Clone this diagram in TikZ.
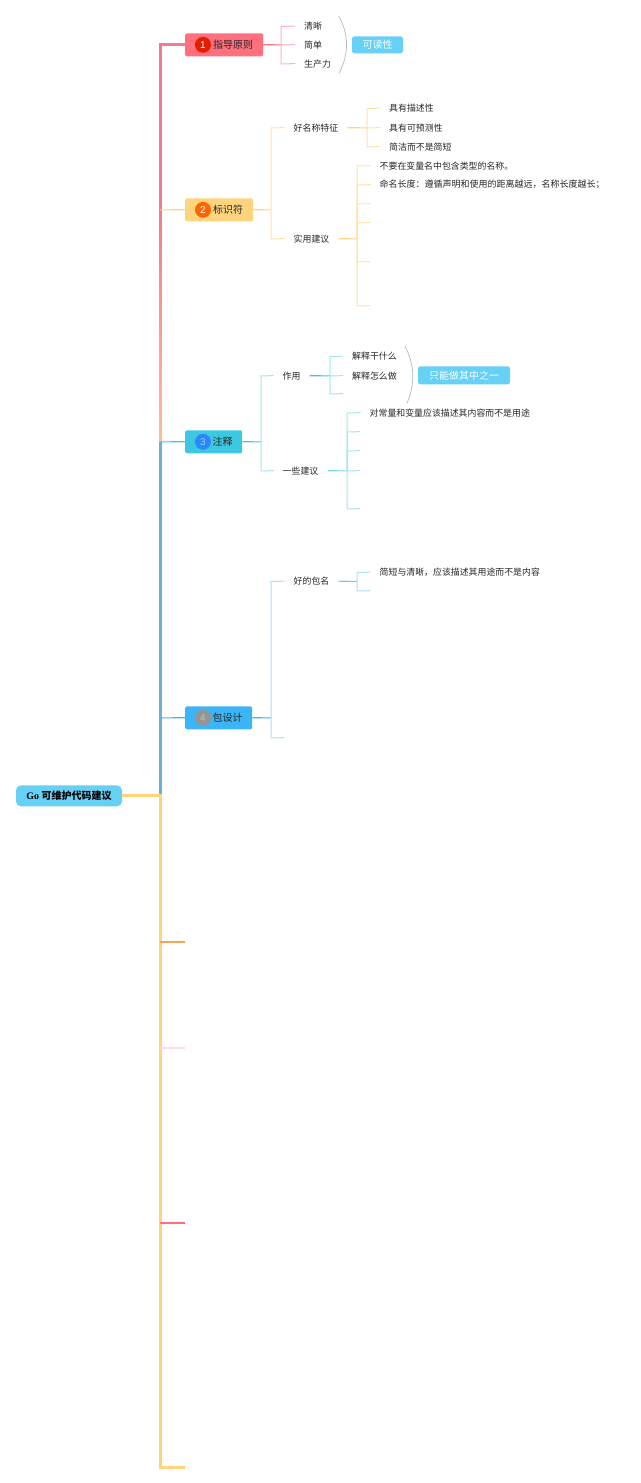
\documentclass[tikz,border=0pt]{standalone}
\usepackage{fontspec}
\setmainfont{Noto Sans CJK SC}
\newfontfamily\latserif{Liberation Serif}[BoldFont={Liberation Serif Bold}]
\newfontfamily\digitfont{Liberation Sans}
\definecolor{cred}{HTML}{FF6F7E}
\definecolor{cyel}{HTML}{FFD47E}
\definecolor{ccya}{HTML}{3CC8E0}
\definecolor{cblu}{HTML}{3BB5F5}
\definecolor{lred}{HTML}{FFB0BA}
\definecolor{lyel}{HTML}{FFE2A4}
\definecolor{lcya}{HTML}{A4E6EE}
\definecolor{lblu}{HTML}{ABDFF7}
\definecolor{tag}{HTML}{66D0F5}
\definecolor{txt}{HTML}{262626}
\definecolor{ctrunkr}{HTML}{F47C8C}
\definecolor{ctrunkp}{HTML}{FFBC96}
\definecolor{ctrunkb}{HTML}{6BB0D8}
\definecolor{carc}{HTML}{A9BDBD}
\definecolor{tworange}{HTML}{F5A55A}
\definecolor{twpink}{HTML}{FADDE6}
\definecolor{cyamid}{HTML}{77D9E9}
\definecolor{blumid}{HTML}{76CBF8}
\newcommand{\stubto}[3]{\draw[stub,color=#1] (#2) -- ([xshift=.08pt]#2 |- #3) -- ([yshift=.08pt]#3);}
\tikzset{
  topic/.style={anchor=west,minimum height=23pt,inner xsep=9pt,inner ysep=0pt,rounded corners=1.5pt,font=\fontsize{10}{12}\selectfont,text=txt},
  badge/.style={circle,minimum size=16pt,inner sep=0pt,font=\fontsize{10}{11}\digitfont},
  leaf/.style={anchor=west,inner xsep=9pt,inner ysep=0pt,font=\fontsize{8.9}{11}\selectfont,text=txt},
  tagbox/.style={anchor=center,fill=tag,rounded corners=2.5pt,inner sep=0pt,text=white,font=\fontsize{10}{12}\selectfont},
  trunkline/.style={line width=3pt},
  twig/.style={line width=2.5pt},
  link/.style={line width=1.2pt},
  stub/.style={line width=1pt},
  arcline/.style={line width=.7pt,color=carc},
}
\begin{document}
\begin{tikzpicture}[x=1pt,y=-1pt]
\useasboundingbox (0,0) rectangle (640,1483);
\begin{scope}[shift={(0,0.3)}]
% trunk coordinates
\coordinate (t0) at (160,795.5);
\coordinate (t1) at (160,44.5);
\coordinate (t2) at (160,209.58);
\coordinate (t3) at (160,441.58);
\coordinate (t4) at (160,717.58);
\coordinate (t5) at (160,941.5);
\coordinate (t6) at (160,1047.5);
\coordinate (t7) at (160,1222.5);
\coordinate (t8) at (160,1467.5);
\coordinate (e5) at (185,941.5);
\coordinate (e6) at (185,1047.5);
\coordinate (e7) at (185,1222.5);
\coordinate (e8) at (185,1467.5);
% root and main topics
\node[anchor=center,minimum width=106pt,minimum height=21pt,inner sep=0pt,fill=tag,rounded corners=5pt,font=\fontsize{10}{12}\selectfont\bfseries,text=black] (root) at (69,795.5) {{\latserif Go} 可维护代码建议};
\node[topic,fill=cred,minimum width=78pt] (n1) at (185,44.5) {\hspace*{18pt}指导原则};
\node[topic,fill=cyel,minimum width=68pt] (n2) at (185,209.5) {\hspace*{18pt}标识符};
\node[topic,fill=ccya,minimum width=57pt] (n3) at (185,441.5) {\hspace*{18pt}注释};
\node[topic,fill=cblu,minimum width=67pt] (n4) at (185,717.5) {\hspace*{18pt}包设计};
\node[badge,fill=red!75!orange!90!black,text=white] (c1) at (203,44.5) {1};
\node[badge,fill=orange!80!red,text=white] (c2) at (203,209.5) {2};
\node[badge,fill=cblu!75!blue,text=cblu!60!white] (c3) at (203,441.5) {3};
\node[badge,fill=black!42,text=black!25] (c4) at (203,717.5) {4};
% leaves
\node[leaf] (a1) at (295,26) {清晰};
\node[leaf] (a2) at (295,44.5) {简单};
\node[leaf] (a3) at (295,63.5) {生产力};
\node[tagbox,minimum width=51pt,minimum height=17pt] (t1tag) at (377.5,44.5) {可读性};
\node[leaf] (b1) at (284.5,127.5) {好名称特征};
\node[leaf] (b2) at (284.5,238.5) {实用建议};
\node[leaf] (b11) at (380,108) {具有描述性};
\node[leaf] (b12) at (380,127.5) {具有可预测性};
\node[leaf] (b13) at (380,146.5) {简洁而不是简短};
\node[leaf] (b21) at (370.5,165.5) {不要在变量名中包含类型的名称。};
\node[leaf,font=\fontsize{9}{11}\selectfont] (b22) at (370.5,184.5) {命名长度：遵循声明和使用的距离越远，名称长度越长；};
\node[leaf] (d1) at (273.5,375.5) {作用};
\node[leaf] (d2) at (273.5,470.5) {一些建议};
\node[leaf] (d11) at (343,356) {解释干什么};
\node[leaf] (d12) at (343,375.5) {解释怎么做};
\node[tagbox,minimum width=92pt,minimum height=18pt] (d1tag) at (464,375) {只能做其中之一};
\node[leaf] (d21) at (360.5,412.5) {对常量和变量应该描述其内容而不是用途};
\node[leaf] (f1) at (284.5,581) {好的包名};
\node[leaf] (f11) at (370.5,572) {简短与清晰，应该描述其用途而不是内容};
% free ends
\coordinate (j1) at (281,44.58);
\coordinate (a1s) at (339,16);
\coordinate (a1e) at (339,73);
\coordinate (j2) at (271,209.58);
\coordinate (j21) at (367,127.58);
\coordinate (j22) at (357,238.58);
\coordinate (b23) at (370,203.5);
\coordinate (b24) at (370,222.5);
\coordinate (b25) at (370,261.5);
\coordinate (b26) at (370,305.5);
\coordinate (j3) at (261,441.58);
\coordinate (j31) at (330,375.58);
\coordinate (d13) at (343,393.5);
\coordinate (d1s) at (405,346);
\coordinate (d1e) at (407,403);
\coordinate (j32) at (347,470.58);
\coordinate (d22) at (360,431.5);
\coordinate (d23) at (360,450.5);
\coordinate (d24) at (360,470.5);
\coordinate (d25) at (360,508.5);
\coordinate (j4) at (271,717.58);
\coordinate (f2) at (284,737.5);
\coordinate (j41) at (357,581.08);
\coordinate (f12) at (370,590.5);
% trunk
\draw[trunkline,color=ctrunkr] (t2) -- (t1) -- (n1.west);
\shade[top color=ctrunkr,bottom color=ctrunkp] (159.2,209.5) rectangle (161.8,441.5);
\draw[trunkline,color=ctrunkb] (t3) -- (t0);
\draw[trunkline,color=cyel] (root.east) -- (t0) -- (t8) -- (e8);
\draw[link,color=cyel] (t2) -- (n2.west);
\draw[link,color=ccya] (t3) -- (n3.west);
\draw[link,color=cblu] (t4) -- (n4.west);
\draw[twig,color=tworange] (t5) -- (e5);
\draw[twig,color=twpink] (t6) -- (e6);
\draw[twig,color=cred] (t7) -- (e7);
% branch 1
\draw[link,color=cred] (n1.east) -- (j1);
\foreach \c in {a1.west,a2.west,a3.west} {\stubto{lred}{j1}{\c}}
\draw[arcline] (a1s) .. controls (349,35) and (349,54) .. (a1e);
% branch 2
\draw[link,color=cyel] (n2.east) -- (j2);
\foreach \c in {b1.west,b2.west} {\stubto{lyel}{j2}{\c}}
\draw[link,color=cyel] (b1.east) -- (j21);
\foreach \c in {b11.west,b12.west,b13.west} {\stubto{lyel}{j21}{\c}}
\draw[link,color=cyel] (b2.east) -- (j22);
\foreach \c in {b21.west,b22.west,b23,b24,b25,b26} {\stubto{lyel}{j22}{\c}}
% branch 3
\draw[link,color=ccya] (n3.east) -- (j3);
\foreach \c in {d1.west,d2.west} {\stubto{lcya}{j3}{\c}}
\draw[link,color=ccya] (d1.east) -- (j31);
\foreach \c in {d11.west,d12.west,d13} {\stubto{lcya}{j31}{\c}}
\draw[arcline] (d1s) .. controls (415,365) and (415,384) .. (d1e);
\draw[link,color=cyamid] (d2.east) -- (j32);
\foreach \c in {d21.west,d22,d23,d24,d25} {\stubto{lcya}{j32}{\c}}
% branch 4
\draw[link,color=cblu] (n4.east) -- (j4);
\foreach \c in {f1.west,f2} {\stubto{lblu}{j4}{\c}}
\draw[link,color=blumid] (f1.east) -- (j41);
\foreach \c in {f11.west,f12} {\stubto{lblu}{j41}{\c}}
\end{scope}
\end{tikzpicture}
\end{document}
